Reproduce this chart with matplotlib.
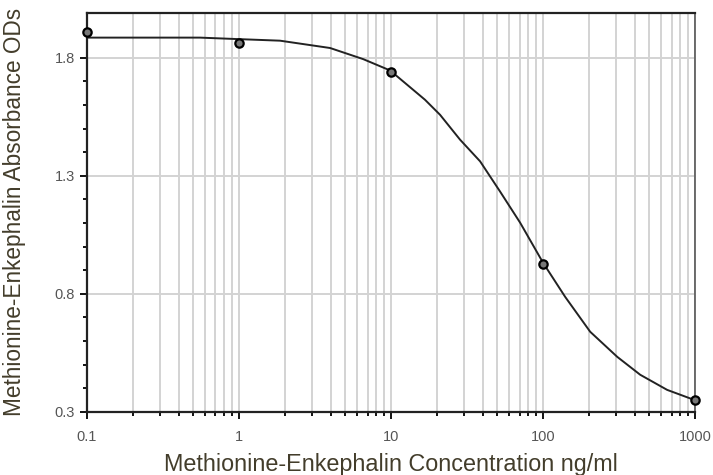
import numpy as np
import matplotlib.pyplot as plt
from matplotlib.ticker import LogLocator, FixedLocator, NullFormatter, FuncFormatter

# standard points
conc = [0.1, 1, 10, 100, 1000]
od = [1.91, 1.864, 1.74, 0.927, 0.35]

# fitted curve
curve_x = [0.1, 0.553, 0.873, 1.861, 3.97, 6.55, 9.85, 16.7, 21.0, 28.4,
           38.5, 52.1, 70.6, 100, 139.6, 204, 307, 435, 654, 1000]
curve_y = [1.885, 1.885, 1.880, 1.872, 1.841, 1.794, 1.746, 1.622, 1.558,
           1.453, 1.361, 1.233, 1.101, 0.931, 0.787, 0.639, 0.533, 0.457,
           0.393, 0.349]

y_major = [0.3, 0.8, 1.3, 1.8]
y_minor = [0.4, 0.5, 0.6, 0.7, 0.9, 1.0, 1.1, 1.2, 1.4, 1.5, 1.6, 1.7, 1.9]

plt.rcParams['font.family'] = ['Liberation Sans', 'DejaVu Sans']

fig = plt.figure(figsize=(7.13, 4.75), dpi=100)
ax = fig.add_axes([0.122, 0.133, 0.853, 0.840])

ax.plot(curve_x, curve_y, color='#222222', lw=1.4, zorder=3,
        solid_joinstyle='round')
ax.plot(conc, od, 'o', ms=6, mfc='#777777', mec='black', mew=1.6,
        zorder=4, clip_on=False)

ax.set_xscale('log')
ax.set_xlim(0.1, 1000)
ax.set_ylim(0.3, 1.99)

ax.xaxis.set_major_locator(FixedLocator([0.1, 1, 10, 100, 1000]))
ax.xaxis.set_major_formatter(FuncFormatter(lambda v, p: '%g' % v))
ax.xaxis.set_minor_locator(LogLocator(base=10, subs=np.arange(2, 10)))
ax.xaxis.set_minor_formatter(NullFormatter())
ax.yaxis.set_major_locator(FixedLocator(y_major))
ax.yaxis.set_minor_locator(FixedLocator(y_minor))
ax.yaxis.set_major_formatter(FuncFormatter(lambda v, p: '%.1f' % v))

ax.grid(True, which='both', axis='x', color='#d3d3d3', lw=1.4)
ax.grid(True, which='major', axis='y', color='#d3d3d3', lw=1.4)
ax.set_axisbelow(True)

ax.tick_params(axis='both', which='major', direction='out', length=5,
               width=1.3, colors='black', labelcolor='#555555', labelsize=10.5)
ax.tick_params(axis='both', which='minor', direction='out', length=3,
               width=1.3, colors='black')
ax.tick_params(axis='x', pad=8)

for s in ['left', 'bottom', 'top']:
    ax.spines[s].set_linewidth(1.6)
    ax.spines[s].set_color('#222222')
ax.spines['right'].set_linewidth(1.2)
ax.spines['right'].set_color('#555555')

ax.set_xlabel('Methionine-Enkephalin Concentration ng/ml', fontsize=16.8,
              color='#433d2b')
ax.set_ylabel('Methionine-Enkephalin Absorbance ODs', fontsize=16.3,
              color='#433d2b')
ax.xaxis.set_label_coords(0.5, -0.103)
ax.yaxis.set_label_coords(-0.100, 0.5)

fig.savefig('out.png', dpi=100)
